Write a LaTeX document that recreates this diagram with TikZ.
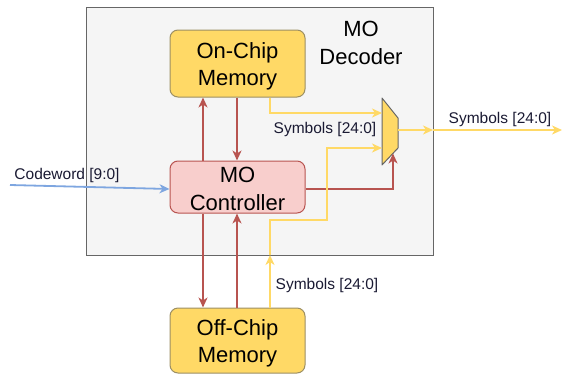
\documentclass[tikz,border=0pt]{standalone}
\usepackage{fontspec}
\setmainfont{Liberation Sans}
\usetikzlibrary{arrows.meta,positioning,calc}

\definecolor{decfill}{HTML}{F5F5F5}
\definecolor{decline}{HTML}{666666}
\definecolor{memfill}{HTML}{FFD966}
\definecolor{memline}{HTML}{9C8F63}
\definecolor{ctrlfill}{HTML}{F8CECC}
\definecolor{ctrlline}{HTML}{B85450}
\definecolor{symline}{HTML}{FFD966}
\definecolor{cwline}{HTML}{7EA6E0}
\definecolor{labtext}{HTML}{1A1A33}

\newcommand{\boxfont}{\fontsize{22}{27.5}\selectfont}
\newcommand{\labfont}{\fontsize{15.5}{18}\selectfont}

\begin{document}
\begin{tikzpicture}[
    x=1pt, y=-1pt,
    >={Stealth[length=10pt,width=9pt,inset=3pt]},
    line width=1.8pt,
    every node/.style={align=center},
    decbox/.style={draw=decline, fill=decfill, line width=1pt, minimum width=347pt, minimum height=248pt, inner sep=0pt},
    membox/.style={draw=memline, fill=memfill, rounded corners=8pt, line width=1pt, minimum width=135pt, inner sep=0pt},
    ctrlbox/.style={draw=ctrlline, fill=ctrlfill, rounded corners=8pt, line width=1pt, minimum width=135pt, minimum height=52pt, inner sep=0pt},
    boxtext/.style={font=\boxfont, inner sep=0pt},
    muxbox/.style={draw=decline, fill=memfill, line width=1pt, line join=round},
    ctrlarrow/.style={->, draw=ctrlline},
    symarrow/.style={->, draw=symline},
    cwarrow/.style={->, draw=cwline},
    siglabel/.style={font=\labfont, text=labtext, inner sep=1pt}
]
\useasboundingbox (0,0) rectangle (562,375);

% -------------------------------------------------
% DECODER FRAME
% -------------------------------------------------
\node[decbox] (decoder) at (259.5, 131) {};
\node[boxtext] (dectitle) at (361, 43) {MO\\Decoder};

% -------------------------------------------------
% BLOCKS
% -------------------------------------------------
\node[membox, minimum height=67pt] (onchip) at (237.5, 63.5) {};
\node[boxtext] (onchiptxt) at ([yshift=-3pt]onchip.center) {On-Chip\\Memory};
\node[ctrlbox] (ctrl) at (237.5, 187) {};
\node[boxtext] (ctrltxt) at ([yshift=-2pt]ctrl.center) {MO\\Controller};
\node[membox, minimum height=65pt] (offchip) at (237.5, 340.5) {};
\node[boxtext] (offchiptxt) at ([yshift=-3pt]offchip.center) {Off-Chip\\Memory};

% mux
\coordinate (muxA) at (382, 98);
\coordinate (muxB) at (398, 118);
\coordinate (muxC) at (398, 148);
\coordinate (muxD) at (382, 165);
\draw[muxbox] (muxA) -- (muxB) -- (muxC) -- (muxD) -- cycle;
\coordinate (muxin1) at (382, 113);
\coordinate (muxin2) at (382, 148);
\coordinate (muxout) at (398, 130);
\coordinate (muxsel) at (393, 153.5);

% -------------------------------------------------
% CONTROL ARROWS
% -------------------------------------------------
\draw[ctrlarrow] ([xshift=-34.5pt]ctrl.north) -- ([xshift=-34.5pt]onchip.south);
\draw[ctrlarrow] ([xshift=-0.5pt]onchip.south) -- ([xshift=-0.5pt]ctrl.north);
\draw[ctrlarrow] ([xshift=-34.5pt]ctrl.south) -- ([xshift=-34.5pt]offchip.north);
\draw[ctrlarrow] ([xshift=-0.5pt]offchip.north) -- ([xshift=-0.5pt]ctrl.south);
\draw[ctrlarrow] ([yshift=-2pt]ctrl.east) -| (muxsel);

% -------------------------------------------------
% CODEWORD INPUT
% -------------------------------------------------
\coordinate (cwin) at (10, 185);
\draw[cwarrow] (cwin) -- ([yshift=-2pt]ctrl.west);
\node[siglabel] (cwlab) at (67, 175) {Codeword [9:0]};

% -------------------------------------------------
% SYMBOL PATHS
% -------------------------------------------------
\draw[symarrow] ([xshift=32.5pt]onchip.south) |- (muxin1);
\node[siglabel] (symlab1) at (325, 129) {Symbols [24:0]};

\coordinate (offin) at (270, 255);
\coordinate (offturn) at (327, 220);
\draw[symarrow] ([xshift=32.5pt]offchip.north) -- (offin);
\draw[symarrow] (offin) |- (offturn) |- (muxin2);
\node[siglabel] (symlab2) at (327, 285) {Symbols [24:0]};

\coordinate (decout) at (433, 130);
\coordinate (symout) at (562, 130);
\draw[symarrow] (muxout) -- (decout);
\draw[symarrow] (decout) -- (symout);
\node[siglabel] (symlab3) at (500, 119) {Symbols [24:0]};

\end{tikzpicture}
\end{document}
